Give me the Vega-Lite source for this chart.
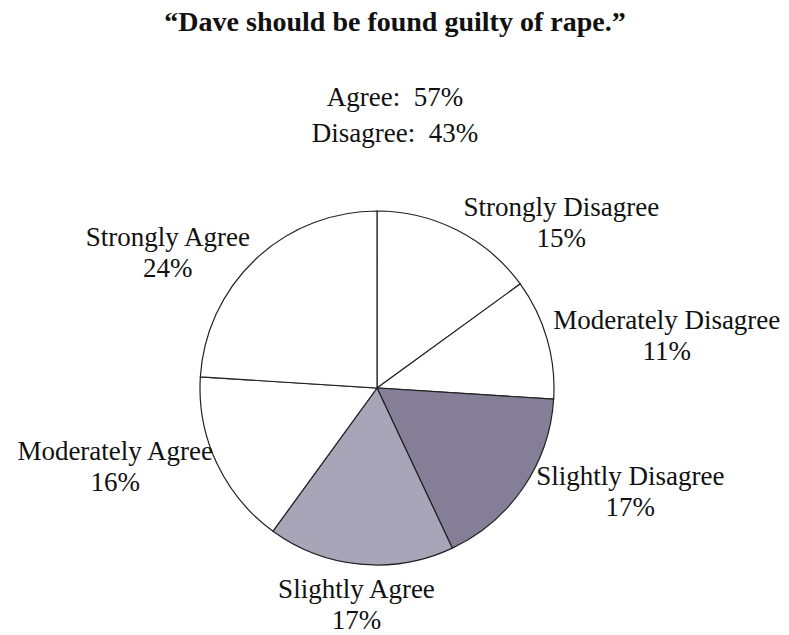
{
  "$schema": "https://vega.github.io/schema/vega-lite/v6.json",
  "autosize": "none",
  "width": 354,
  "height": 354,
  "padding": {"left": 200, "top": 211, "right": 235, "bottom": 70},
  "background": "white",
  "config": {
    "view": {"stroke": null},
    "font": "Liberation Serif"
  },
  "title": {
    "text": "“Dave should be found guilty of rape.”",
    "subtitle": ["Agree:\u00a0 57%", "Disagree:\u00a0 43%"],
    "font": "Liberation Serif",
    "fontSize": 28,
    "fontWeight": "bold",
    "color": "#111111",
    "subtitleFont": "Liberation Serif",
    "subtitleFontSize": 27,
    "subtitleColor": "#111111",
    "subtitleLineHeight": 36,
    "subtitlePadding": 48,
    "anchor": "middle",
    "dx": 18,
    "offset": 47
  },
  "data": {
    "values": [
      {"i": 1, "response": "Strongly Disagree", "pct": 15, "label": "Strongly Disagree\n15%"},
      {"i": 2, "response": "Moderately Disagree", "pct": 11, "label": "Moderately Disagree\n11%"},
      {"i": 3, "response": "Slightly Disagree", "pct": 17, "label": "Slightly Disagree\n17%"},
      {"i": 4, "response": "Slightly Agree", "pct": 17, "label": "Slightly Agree\n17%"},
      {"i": 5, "response": "Moderately Agree", "pct": 16, "label": "Moderately Agree\n16%"},
      {"i": 6, "response": "Strongly Agree", "pct": 24, "label": "Strongly Agree\n24%"}
    ]
  },
  "encoding": {
    "theta": {"field": "pct", "type": "quantitative", "stack": true},
    "order": {"field": "i", "type": "quantitative"}
  },
  "layer": [
    {
      "mark": {"type": "arc", "stroke": "#222222", "strokeWidth": 1.2},
      "encoding": {
        "color": {
          "field": "response",
          "type": "nominal",
          "scale": {
            "domain": ["Strongly Disagree", "Moderately Disagree", "Slightly Disagree", "Slightly Agree", "Moderately Agree", "Strongly Agree"],
            "range": ["#ffffff", "#ffffff", "#847f97", "#a8a5b8", "#ffffff", "#ffffff"]
          },
          "legend": null
        }
      }
    },
    {
      "mark": {
        "type": "text",
        "font": "Liberation Serif",
        "fontSize": 27,
        "lineHeight": 31,
        "lineBreak": "\n",
        "color": "#111111",
        "baseline": "middle",
        "align": "center",
        "dy": -15,
        "radius": {"expr": "abs(sin(PI*(datum.pct_start+datum.pct_end)/100)) < 0.3 ? 218 : 185"},
        "dx": {"expr": "abs(sin(PI*(datum.pct_start+datum.pct_end)/100)) < 0.3 ? 0 : (sin(PI*(datum.pct_start+datum.pct_end)/100) > 0 ? 1 : -1) * length(datum.response) * 5.9"}
      },
      "encoding": {
        "text": {"field": "label", "type": "nominal"}
      }
    }
  ]
}
